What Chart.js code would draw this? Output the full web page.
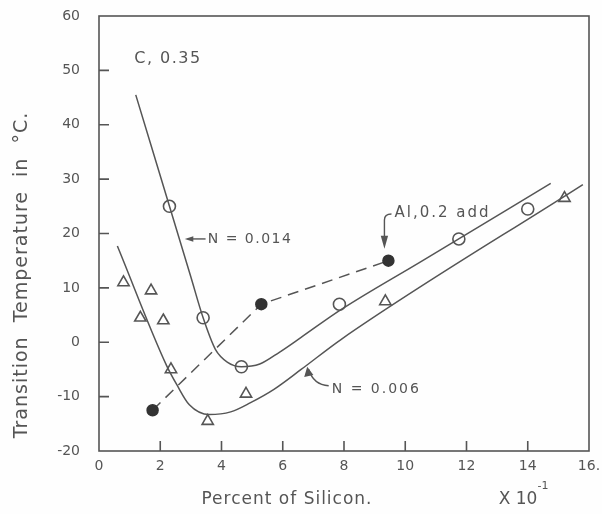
<!DOCTYPE html>
<html>
<head>
<meta charset="utf-8">
<script src="https://cdn.jsdelivr.net/npm/chart.js@4.4.0/dist/chart.umd.min.js"></script>
<style>
  html, body { margin: 0; padding: 0; background: #fefefe; }
  #wrap { width: 602px; height: 514px; }
</style>
</head>
<body>
<div id="wrap"><canvas id="chart"></canvas></div>
<script>
// transition temperature vs silicon content (x 10^-1 %)
var xTickLabels = ['0', '2', '4', '6', '8', '10', '12', '14', '16.'];
var yTickLabels = ['-20', '-10', '0', '10', '20', '30', '40', '50', '60'];

// N = 0.014 : open circles and fitted curve
var n014X = [2.3, 3.4, 4.65, 7.85, 11.75, 14.0];
var n014Y = [25, 4.5, -4.5, 7, 19, 24.5];
var n014CurveX = [1.2, 3.0, 3.4, 3.8, 4.2, 4.65, 5.25, 5.9, 6.6, 7.9, 10.5, 14.75];
var n014CurveY = [45.5, 12, 4.5, -1.3, -3.7, -4.5, -4.0, -1.8, 0.9, 6.0, 14.8, 29.2];

// N = 0.006 : triangles and fitted curve
var n006X = [0.8, 1.7, 1.35, 2.1, 2.35, 3.55, 4.8, 9.35, 15.2];
var n006Y = [11, 9.5, 4.5, 4, -5, -14.5, -9.5, 7.5, 26.5];
var n006CurveX = [0.6, 2.2, 2.55, 2.95, 3.6, 4.3, 4.95, 5.7, 6.6, 7.9, 15.8];
var n006CurveY = [17.7, -4.2, -7.9, -11.5, -13.3, -12.8, -11.1, -8.7, -5.0, 0.5, 29];

// Al, 0.2 add : filled circles joined by dashes
var alX = [1.75, 5.3, 9.45];
var alY = [-12.5, 7, 15];

function pts(xs, ys) {
    return xs.map(function (x, i) { return { x: x, y: ys[i] }; });
}

var ink = '#555555';
var textInk = '#555555';

var framePlugin = {
    id: 'frame',
    afterDraw: function (chart) {
        var ctx = chart.ctx;
        var a = chart.chartArea;
        var xs = chart.scales.x, ys = chart.scales.y;
        var X = function (v) { return xs.getPixelForValue(v); };
        var Y = function (v) { return ys.getPixelForValue(v); };
        ctx.save();
        ctx.strokeStyle = ink;
        ctx.lineWidth = 1.6;
        ctx.strokeRect(a.left, a.top, a.right - a.left, a.bottom - a.top);
        // inward ticks
        ctx.beginPath();
        for (var v = -10; v <= 50; v += 10) {
            ctx.moveTo(a.left, Y(v)); ctx.lineTo(a.left + 10, Y(v));
        }
        for (var u = 2; u <= 14; u += 2) {
            ctx.moveTo(X(u), a.bottom); ctx.lineTo(X(u), a.bottom - 10);
        }
        ctx.stroke();

        // annotations
        ctx.fillStyle = textInk;
        ctx.textBaseline = 'middle';
        ctx.textAlign = 'left';
        ctx.letterSpacing = '1.5px';
        ctx.font = '16px "DejaVu Sans"';
        ctx.fillText('C, 0.35', X(1.15), Y(52.2));

        ctx.font = '14px "DejaVu Sans"';
        // N = 0.014 with arrow pointing left
        ctx.fillText('N = 0.014', X(3.55), Y(19.0));
        ctx.lineWidth = 1.4;
        ctx.beginPath();
        ctx.moveTo(X(2.9), Y(19.0)); ctx.lineTo(X(3.48), Y(19.0));
        ctx.stroke();
        ctx.beginPath();
        ctx.moveTo(X(2.8), Y(19.0)); ctx.lineTo(X(3.08), Y(19.5)); ctx.lineTo(X(3.08), Y(18.5));
        ctx.closePath(); ctx.fill();

        // Al, 0.2 add with bracket arrow
        ctx.letterSpacing = '2px';
        ctx.font = '15px "DejaVu Sans"';
        ctx.fillText('Al,0.2 add', X(9.65), Y(23.8));
        ctx.beginPath();
        ctx.moveTo(X(9.55), Y(23.6));
        ctx.quadraticCurveTo(X(9.32), Y(23.6), X(9.32), Y(22.5));
        ctx.lineTo(X(9.32), Y(18.5));
        ctx.stroke();
        ctx.beginPath();
        ctx.moveTo(X(9.32), Y(17.2)); ctx.lineTo(X(9.2), Y(19.6)); ctx.lineTo(X(9.44), Y(19.6));
        ctx.closePath(); ctx.fill();

        // N = 0.006 with curved arrow
        ctx.font = '14px "DejaVu Sans"';
        ctx.fillText('N = 0.006', X(7.6), Y(-8.7));
        ctx.beginPath();
        ctx.moveTo(X(7.5), Y(-8.0));
        ctx.quadraticCurveTo(X(7.0), Y(-7.8), X(6.85), Y(-5.0));
        ctx.stroke();
        ctx.beginPath();
        ctx.moveTo(X(6.8), Y(-4.5)); ctx.lineTo(X(6.7), Y(-6.4)); ctx.lineTo(X(7.0), Y(-6.0));
        ctx.closePath(); ctx.fill();

        // axis titles
        ctx.letterSpacing = '1px';
        ctx.font = '17px "DejaVu Sans"';
        ctx.textAlign = 'center';
        ctx.fillText('Percent of Silicon.', 287, 500);
        ctx.letterSpacing = '0px';
        ctx.fillText('X 10', 518, 500);
        ctx.font = '11px "DejaVu Sans"';
        ctx.fillText('-1', 543, 486);

        ctx.translate(22, 275);
        ctx.rotate(-Math.PI / 2);
        ctx.letterSpacing = '1px';
        ctx.font = '19px "DejaVu Sans"';
        ctx.fillText('Transition  Temperature  in  \u00b0C.', 0, 0);
        ctx.restore();
    }
};

new Chart(document.getElementById('chart'), {
    type: 'scatter',
    data: {
        datasets: [
            { type: 'line', label: 'N=0.014 curve', data: pts(n014CurveX, n014CurveY), borderColor: ink, borderWidth: 1.5, pointRadius: 0, cubicInterpolationMode: 'monotone', fill: false },
            { type: 'line', label: 'N=0.006 curve', data: pts(n006CurveX, n006CurveY), borderColor: ink, borderWidth: 1.5, pointRadius: 0, cubicInterpolationMode: 'monotone', fill: false },
            { type: 'line', label: 'Al, 0.2 add', data: pts(alX, alY), borderColor: ink, borderWidth: 1.5, borderDash: [11, 7], tension: 0, pointRadius: 5.5, pointBackgroundColor: '#333333', pointBorderColor: '#333333', fill: false },
            { label: 'N=0.014', data: pts(n014X, n014Y), pointStyle: 'circle', pointRadius: 6, pointBackgroundColor: '#ffffff', pointBorderColor: ink, pointBorderWidth: 1.6 },
            { label: 'N=0.006', data: pts(n006X, n006Y), pointStyle: 'triangle', pointRadius: 6.5, pointBackgroundColor: '#ffffff', pointBorderColor: ink, pointBorderWidth: 1.6 }
        ]
    },
    plugins: [framePlugin],
    options: {
        responsive: true,
        maintainAspectRatio: false,
        animation: false,
        layout: { padding: { top: 16, right: 13, left: 0, bottom: 0 } },
        plugins: { legend: { display: false }, tooltip: { enabled: false } },
        scales: {
            x: {
                type: 'linear', min: 0, max: 16,
                grid: { display: false, drawTicks: false },
                border: { display: false },
                afterFit: function (s) { s.height = 63; s.paddingLeft = 0; s.paddingRight = 0; },
                ticks: {
                    stepSize: 2, color: '#555', padding: 7,
                    font: { family: 'DejaVu Sans', size: 14 },
                    callback: function (v) { return xTickLabels[v / 2]; }
                }
            },
            y: {
                type: 'linear', min: -20, max: 60,
                grid: { display: false, drawTicks: false },
                border: { display: false },
                afterFit: function (s) { s.width = 99; s.paddingTop = 0; s.paddingBottom = 0; },
                ticks: {
                    stepSize: 10, color: '#555', padding: 19,
                    font: { family: 'DejaVu Sans', size: 14 },
                    callback: function (v) { return yTickLabels[(v + 20) / 10]; }
                }
            }
        }
    }
});
</script>
</body>
</html>
